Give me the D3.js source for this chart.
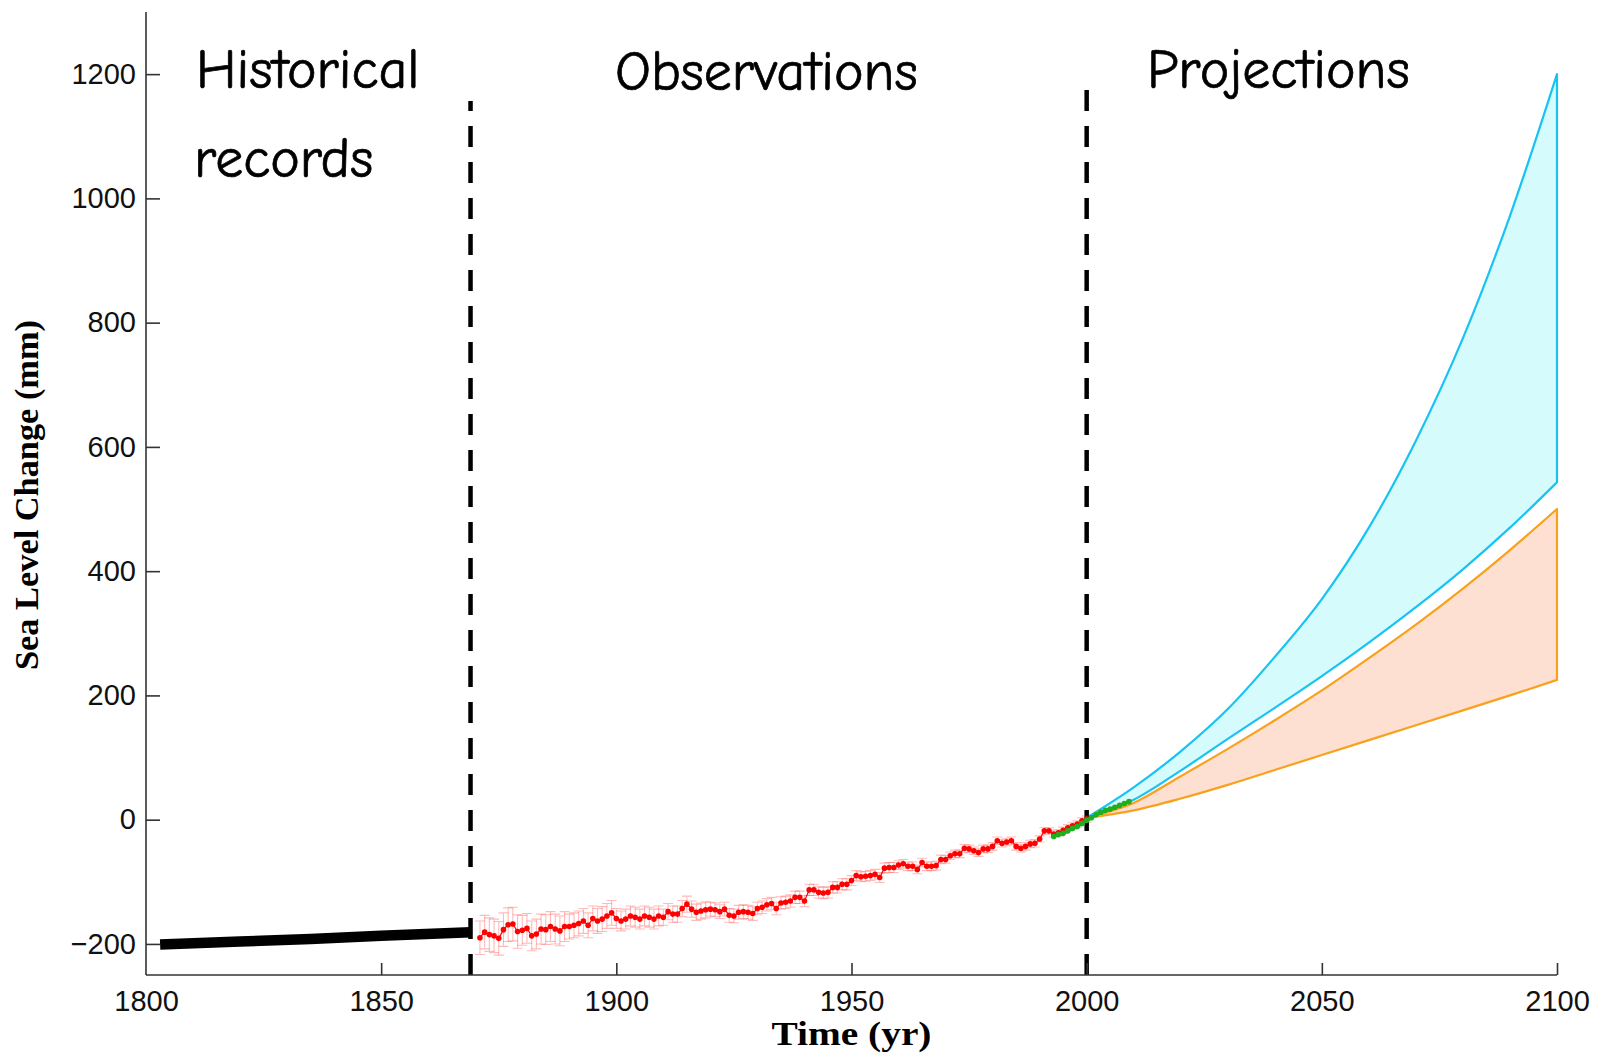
<!DOCTYPE html>
<html>
<head>
<meta charset="utf-8">
<script src="https://cdn.jsdelivr.net/npm/d3@7"></script>
<style>
  body { margin: 0; background: #fff; }
  svg { display: block; }
</style>
</head>
<body>
<svg id="chart" width="1597" height="1054"></svg>
<script>
/* Data */
var xTicks = [1800, 1850, 1900, 1950, 2000, 2050, 2100];
var yTicks = [-200, 0, 200, 400, 600, 800, 1000, 1200];

// historical records (thick black line)
var histYears = [1803, 1820, 1835, 1850, 1869];
var histValues = [-201, -196, -192, -187, -181];

// tide gauge observations, one value per year from obsStart
var obsStart = 1871;
var obsValues = [
  -190, -181, -185, -187, -191, -177, -169, -168, -180,
  -178, -175, -187, -184, -176, -177, -172, -176, -179, -172,
  -172, -170, -167, -163, -170, -159, -163, -160, -155, -150,
  -159, -163, -160, -155, -157, -160, -155, -157, -160, -155,
  -157, -148, -152, -152, -143, -136, -144, -149, -147, -145,
  -144, -145, -148, -144, -154, -155, -149, -148, -149, -151,
  -143, -141, -137, -135, -143, -134, -133, -131, -125, -125,
  -131, -113, -113, -117, -118, -117, -109, -109, -104, -104,
  -98, -90, -92, -91, -90, -88, -93, -78, -77, -77,
  -73, -71, -75, -75, -80, -69, -75, -75, -74, -64,
  -64, -58, -55, -55, -46, -47, -50, -53, -47, -47,
  -43, -34, -38, -36, -34, -43, -46, -43, -39, -38,
  -31, -18, -18, -23, -21, -17, -13, -10, -7, -2,
  1
];
// half width of the error bars, by decade starting 1870
var obsErrDecades = [1870, 1880, 1890, 1900, 1910, 1920, 1930, 1940, 1950, 1960, 1970, 1980, 1990, 2000];
var obsErrValues  = [27, 24, 20, 16, 13, 11, 10, 9, 8, 7, 6, 6, 5, 5];

// satellite altimetry (green)
var altStart = 1993;
var altValues = [-27, -24, -22, -18, -14, -11, -6, -1, 3, 8, 12, 15, 17, 20, 23, 26, 29];

// projections
var projYears = [2000, 2010, 2020, 2030, 2040, 2050, 2060, 2070, 2080, 2090, 2100];
var blueUpper   = [3, 52, 110, 178, 262, 355, 470, 610, 775, 972, 1200];
var blueLower   = [3, 32, 79, 130, 180, 231, 285, 342, 403, 470, 543];
var orangeUpper = [3, 27, 70, 114, 160, 208, 260, 314, 372, 434, 500];
var orangeLower = [3, 15, 34, 56, 80, 104, 128, 152, 176, 200, 225];

var periodNames = ["Historical", "records", "Observations", "Projections"];
var periodBreaks = [1869, 2000];

/* Layout */
var svg = d3.select("svg#chart");
var plot = { left: 146, right: 1557, top: 12, bottom: 975 };

var x = d3.scaleLinear().domain([1800, 2100]).range([plot.left, plot.right]);
var y = d3.scaleLinear().domain([-250, 1300]).range([plot.bottom, plot.top]);

var tickFont = "'Liberation Sans', Arial, Helvetica, sans-serif";
var titleFont = "'Liberation Serif', 'Times New Roman', serif";
var handFont = "'Comic Sans MS', 'Comic Neue', Lato, sans-serif";

/* Projection bands */
function band(upper, lower) {
  return d3.area()
    .x((d, i) => x(d))
    .y1((d, i) => y(upper[i]))
    .y0((d, i) => y(lower[i]))
    .curve(d3.curveMonotoneX)(projYears);
}

svg.append("path")
  .attr("d", band(blueUpper, blueLower))
  .attr("fill", "#d5fbfd")
  .attr("stroke", "#18c3f2")
  .attr("stroke-width", 2.2)
  .attr("stroke-linejoin", "round");

svg.append("path")
  .attr("d", band(orangeUpper, orangeLower))
  .attr("fill", "#fde0d1")
  .attr("stroke", "#f9a11d")
  .attr("stroke-width", 2.2)
  .attr("stroke-linejoin", "round");

/* Dashed separators */
var dashTops = [101, 87];
svg.selectAll(".sep")
  .data(periodBreaks)
  .enter()
  .append("line")
  .attr("class", "sep")
  .attr("x1", d => x(d))
  .attr("x2", d => x(d))
  .attr("y1", plot.bottom)
  .attr("y2", (d, i) => dashTops[i])
  .attr("stroke", "#000")
  .attr("stroke-width", 4.5)
  .attr("stroke-dasharray", "21,15");

/* Historical records */
svg.append("path")
  .datum(histYears.map((yr, i) => [yr, histValues[i]]))
  .attr("d", d3.line().x(d => x(d[0])).y(d => y(d[1])))
  .attr("fill", "none")
  .attr("stroke", "#000")
  .attr("stroke-width", 10.5);

/* Observations with error bars */
var obs = obsValues.map((v, i) => {
  var yr = obsStart + i;
  var k = d3.bisectRight(obsErrDecades, yr) - 1;
  return { year: yr, value: v, err: obsErrValues[k] };
});

var errG = svg.append("g").attr("class", "errors")
  .attr("stroke", "#ff3b3b")
  .attr("stroke-opacity", 0.35)
  .attr("stroke-width", 1.1);

errG.selectAll(".ebar")
  .data(obs)
  .enter()
  .append("path")
  .attr("class", "ebar")
  .attr("d", d => {
    var cx = x(d.year), y0 = y(d.value - d.err), y1 = y(d.value + d.err);
    return `M${cx},${y0}V${y1}M${cx - 5},${y0}H${cx + 5}M${cx - 5},${y1}H${cx + 5}`;
  });

svg.append("path")
  .datum(obs)
  .attr("d", d3.line().x(d => x(d.year)).y(d => y(d.value)))
  .attr("fill", "none")
  .attr("stroke", "#ff0000")
  .attr("stroke-width", 1.2);

svg.selectAll(".obs")
  .data(obs)
  .enter()
  .append("circle")
  .attr("class", "obs")
  .attr("cx", d => x(d.year))
  .attr("cy", d => y(d.value))
  .attr("r", 2.8)
  .attr("fill", "#ff0000");

/* Satellite altimetry */
var alt = altValues.map((v, i) => ({ year: altStart + i, value: v }));

svg.append("path")
  .datum(alt)
  .attr("d", d3.line().x(d => x(d.year)).y(d => y(d.value)))
  .attr("fill", "none")
  .attr("stroke", "#1fae1f")
  .attr("stroke-width", 3.2);

svg.selectAll(".alt")
  .data(alt)
  .enter()
  .append("circle")
  .attr("class", "alt")
  .attr("cx", d => x(d.year))
  .attr("cy", d => y(d.value))
  .attr("r", 2.8)
  .attr("fill", "#1fae1f");

/* Axes */
var tickFormat = d3.format("d");
var xAxis = d3.axisBottom(x).tickValues(xTicks).tickFormat(tickFormat)
  .tickSizeInner(-12).tickSizeOuter(0).tickPadding(15);
var yAxis = d3.axisLeft(y).tickValues(yTicks).tickFormat(tickFormat)
  .tickSizeInner(-14).tickSizeOuter(0).tickPadding(10);

var gx = svg.append("g")
  .attr("transform", `translate(0, ${plot.bottom})`)
  .call(xAxis);

var gy = svg.append("g")
  .attr("transform", `translate(${plot.left}, 0)`)
  .call(yAxis);

[gx, gy].forEach(g => {
  g.select(".domain").attr("stroke", "#333").attr("stroke-width", 1.6);
  g.selectAll(".tick line").attr("stroke", "#333").attr("stroke-width", 1.6);
  g.selectAll(".tick text")
    .attr("fill", "#111")
    .style("font-family", tickFont)
    .style("font-size", "29px");
});
gy.selectAll(".tick text").attr("x", -10);
gy.select(".domain").attr("d", `M0,${plot.top}V${plot.bottom}`);
gx.select(".domain").attr("d", `M${plot.left},0H${plot.right}`);
// the 1800 tick mark sits on the y axis
gx.selectAll(".tick line").filter(d => d === 1800).remove();

/* Axis titles */
svg.append("text")
  .text("Time (yr)")
  .attr("x", x(1950))
  .attr("y", 1045)
  .attr("text-anchor", "middle")
  .attr("textLength", 160)
  .attr("lengthAdjust", "spacingAndGlyphs")
  .style("font-family", titleFont)
  .style("font-weight", "bold")
  .style("font-size", "33px");

svg.append("text")
  .text("Sea Level Change (mm)")
  .attr("transform", "translate(38, 495) rotate(-90)")
  .attr("text-anchor", "middle")
  .attr("textLength", 350)
  .attr("lengthAdjust", "spacingAndGlyphs")
  .style("font-family", titleFont)
  .style("font-weight", "bold")
  .style("font-size", "34px");

/* Period labels */
var labelPos = [[196, 88], [194, 177], [615, 90], [1147, 88]];
svg.selectAll(".period")
  .data(periodNames)
  .enter()
  .append("text")
  .attr("class", "period")
  .text(d => d)
  .attr("x", (d, i) => labelPos[i][0])
  .attr("y", (d, i) => labelPos[i][1])
  .style("font-family", handFont)
  .style("font-size", "56px")
  .style("fill", "#000")
  .style("stroke", "#000")
  .style("stroke-width", 0.7);
</script>
</body>
</html>
